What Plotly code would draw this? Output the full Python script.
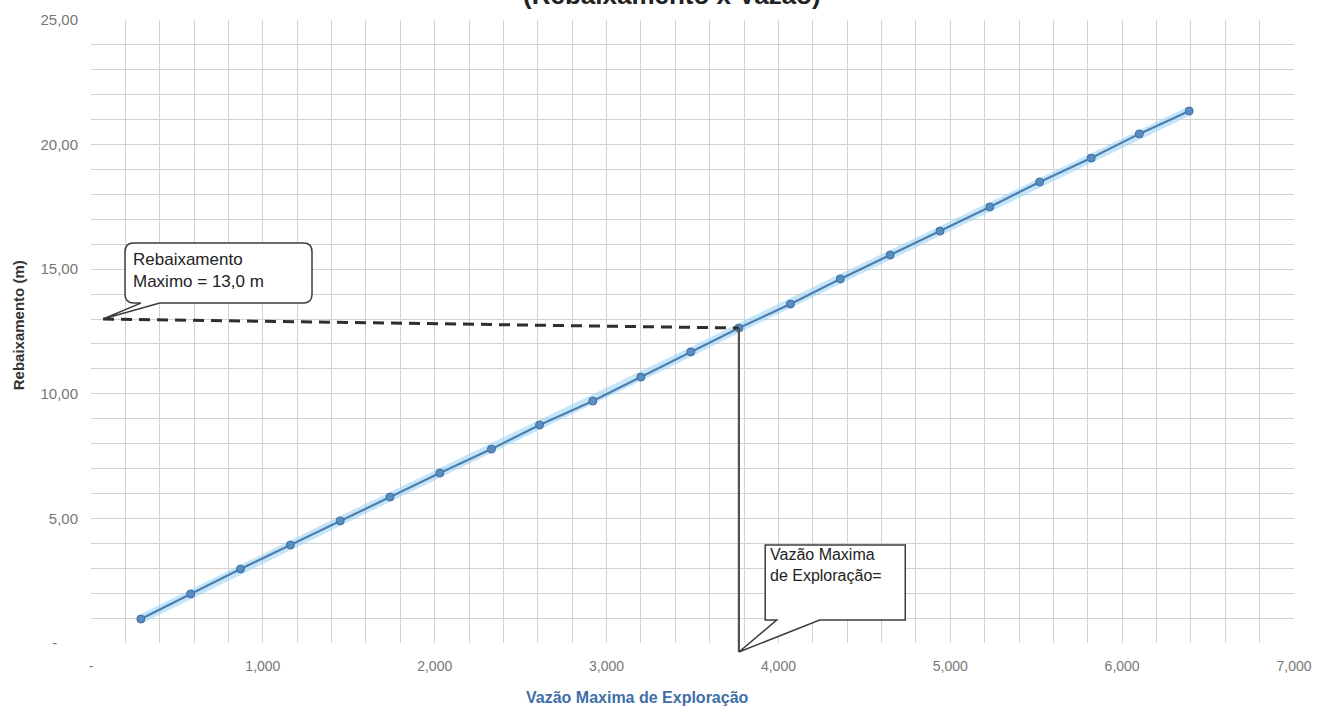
import plotly.graph_objects as go

# Teste de bombeamento: vazão (m³/h) x rebaixamento (m)
vazao = [0.29, 0.58, 0.87, 1.16, 1.45, 1.74, 2.03, 2.33, 2.61, 2.92, 3.20,
         3.49, 3.77, 4.07, 4.36, 4.65, 4.94, 5.23, 5.52, 5.82, 6.10, 6.39]
rebaixamento = [0.96, 1.97, 2.97, 3.93, 4.90, 5.86, 6.82, 7.78, 8.75, 9.71, 10.67,
                11.68, 12.64, 13.60, 14.61, 15.57, 16.53, 17.50, 18.50, 19.46, 20.43, 21.35]

rebaix_maximo = 13.0          # limite de rebaixamento
idx_operacao = 12             # ponto de vazão máxima de exploração

x_ticks = [0, 1, 2, 3, 4, 5, 6, 7]
x_ticktext = ["-", "1,000", "2,000", "3,000", "4,000", "5,000", "6,000", "7,000"]
y_ticks = [0, 5, 10, 15, 20, 25]
y_ticktext = ["-\u00a0\u00a0\u00a0\u00a0\u00a0", "5,00", "10,00", "15,00", "20,00", "25,00"]

X_MAX, Y_MAX = 7.0, 25.0


def pp(x, y):
    """data -> paper coordinates"""
    return x / X_MAX, y / Y_MAX


def fmt(p):
    return f"{p[0]:.5f},{p[1]:.5f}"


def path(points):
    return "M " + " L ".join(fmt(p) for p in points) + " Z"


fig = go.Figure()

# soft halo under the series line
fig.add_trace(go.Scatter(
    x=vazao, y=rebaixamento, mode="lines",
    line=dict(color="rgba(150,210,245,0.55)", width=9),
    hoverinfo="skip", showlegend=False))

fig.add_trace(go.Scatter(
    x=vazao, y=rebaixamento, mode="lines+markers",
    line=dict(color="#4d7fae", width=2.2),
    marker=dict(size=8, color="#5a8cc0", line=dict(color="#3f6f9f", width=1)),
    showlegend=False))

qx, qy = vazao[idx_operacao], rebaixamento[idx_operacao]

# callout 1: rebaixamento máximo (rounded box with a tail)
tip1 = (0.07, rebaix_maximo)
bx0, bx1, by0, by1 = 0.198, 1.286, 13.64, 16.05
rx, ry = 0.05, 0.35
c = [pp(*p) for p in [
    (bx0 + rx, by1), (bx1 - rx, by1), (bx1, by1), (bx1, by1 - ry), (bx1, by0 + ry),
    (bx1, by0), (bx1 - rx, by0), (0.40, by0), tip1, (0.29, by0), (bx0 + rx, by0),
    (bx0, by0), (bx0, by0 + ry), (bx0, by1 - ry), (bx0, by1), (bx0 + rx, by1)]]
callout1 = (f"M {fmt(c[0])} L {fmt(c[1])} Q {fmt(c[2])} {fmt(c[3])} L {fmt(c[4])} "
            f"Q {fmt(c[5])} {fmt(c[6])} L {fmt(c[7])} L {fmt(c[8])} L {fmt(c[9])} "
            f"L {fmt(c[10])} Q {fmt(c[11])} {fmt(c[12])} L {fmt(c[13])} "
            f"Q {fmt(c[14])} {fmt(c[15])} Z")

# callout 2: vazão máxima de exploração
tip2 = (qx, -0.36)
cx0, cx1, cy0, cy1 = 3.923, 4.738, 0.92, 3.93
callout2 = path([pp(*p) for p in [
    (cx0, cy1), (cx1, cy1), (cx1, cy0), (4.24, cy0), tip2, (3.99, cy0), (cx0, cy0)]])

shapes = [
    # dashed guide from the limit to the operating point
    dict(type="line", xref="paper", yref="paper",
         x0=pp(*tip1)[0], y0=pp(*tip1)[1], x1=pp(qx, qy)[0], y1=pp(qx, qy)[1],
         line=dict(color="#2e2e2e", width=3, dash="11px,7px")),
    # vertical drop to the x axis
    dict(type="line", xref="paper", yref="paper",
         x0=pp(qx, qy)[0], y0=pp(qx, qy)[1], x1=pp(*tip2)[0], y1=pp(*tip2)[1],
         line=dict(color="#505050", width=2.2)),
    dict(type="path", xref="paper", yref="paper", path=callout1,
         fillcolor="white", line=dict(color="#3c3c3c", width=1.5)),
    dict(type="path", xref="paper", yref="paper", path=callout2,
         fillcolor="white", line=dict(color="#3c3c3c", width=1.5)),
]

annotations = [
    dict(xref="paper", yref="paper", x=pp(0.235, 0)[0], y=pp(0, 14.93)[1],
         xanchor="left", yanchor="middle", align="left", showarrow=False,
         text="Rebaixamento<br>Maximo = 13,0 m",
         font=dict(family="Liberation Sans", size=17, color="#222222")),
    dict(xref="paper", yref="paper", x=pp(3.94, 0)[0], y=pp(0, 3.13)[1],
         xanchor="left", yanchor="middle", align="left", showarrow=False,
         text="Vazão Maxima<br>de Exploração=",
         font=dict(family="Liberation Sans", size=16, color="#222222")),
    # axis titles
    dict(xref="paper", yref="paper", x=0.454, y=0, yshift=-54,
         xanchor="center", yanchor="middle", showarrow=False,
         text="<b>Vazão Maxima de Exploração</b>",
         font=dict(family="Liberation Sans", size=16, color="#3f6fa8")),
    dict(xref="paper", yref="paper", x=0, xshift=-73, y=0.51,
         xanchor="center", yanchor="middle", showarrow=False, textangle=-90,
         text="<b>Rebaixamento (m)</b>",
         font=dict(family="Liberation Sans", size=15, color="#333333")),
    # chart title
    dict(xref="paper", yref="paper", x=0.483, y=1, yshift=8,
         xanchor="center", yanchor="bottom", showarrow=False,
         text="<b>(Rebaixamento x Vazão)</b>",
         font=dict(family="Liberation Sans", size=26, color="#222222")),
]

grid = "#d2d2d2"
fig.update_layout(
    width=1320, height=709,
    margin=dict(l=91, r=26, t=20, b=66, autoexpand=False),
    paper_bgcolor="white", plot_bgcolor="white",
    shapes=shapes, annotations=annotations,
    xaxis=dict(range=[0, X_MAX], tickvals=x_ticks, ticktext=x_ticktext,
               showgrid=True, gridcolor=grid, gridwidth=1, automargin=False,
               minor=dict(dtick=0.2, showgrid=True, gridcolor=grid, gridwidth=1),
               zeroline=False, showline=False, ticks="", ticklabelstandoff=13,
               tickfont=dict(family="Liberation Sans", size=14, color="#777777")),
    yaxis=dict(range=[0, Y_MAX], tickvals=y_ticks, ticktext=y_ticktext,
               showgrid=True, gridcolor=grid, gridwidth=1, automargin=False,
               minor=dict(dtick=1, showgrid=True, gridcolor=grid, gridwidth=1),
               zeroline=False, showline=False, ticks="", ticklabelstandoff=12,
               tickfont=dict(family="Liberation Sans", size=15, color="#777777")),
)

fig.write_html("out.html")
